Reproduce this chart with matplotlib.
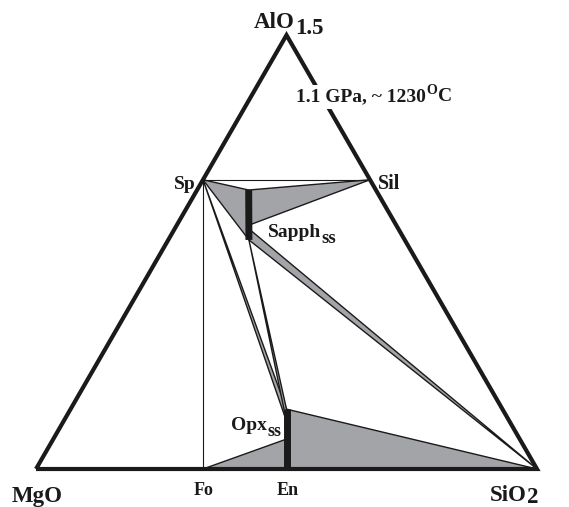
import numpy as np
import matplotlib
matplotlib.use("Agg")
import matplotlib.pyplot as plt
from matplotlib.transforms import Affine2D

# ---- data: compositions as (MgO, AlO1.5, SiO2) mole fractions ----
vertices = {"MgO": (1.0, 0.0, 0.0), "AlO1.5": (0.0, 1.0, 0.0), "SiO2": (0.0, 0.0, 1.0)}
sp = (1/3, 2/3, 0.0)
sil = (0.0, 2/3, 1/3)
fo = (2/3, 0.0, 1/3)
en = (0.5, 0.0, 0.5)
sapph_top = (0.254, 0.643, 0.103)
sapph_mid = (0.294, 0.562, 0.144)
sapph_band = (0.2975, 0.552, 0.1505)
sapph_bot = (0.311, 0.528, 0.161)
opx_top = (0.431, 0.138, 0.431)
opx_sl = (0.445, 0.110, 0.445)
opx_fo = (0.4655, 0.069, 0.4655)

def xy(c):
    m, a, s = c
    return s + a / 2.0, a * np.sqrt(3) / 2.0

def pts(*cs):
    arr = np.array([xy(c) for c in cs])
    return arr[:, 0], arr[:, 1]

W, H = 569, 507
fig = plt.figure(figsize=(W / 100, H / 100), dpi=100)
ax = fig.add_axes([0, 0, 1, 1])
s = 501.0
ax.set_xlim(-36 / s, (W - 36) / s)
ax.set_ylim(-(H - 469) / s, 469 / s)
ax.axis("off")

gray = "#a3a4a8"
k = "#1a1a1a"

def poly(cs, lw=1.0):
    x, y = pts(*cs)
    ax.fill(x, y, facecolor=gray, edgecolor=k, lw=lw, joinstyle="miter", zorder=2)

def line(c1, c2, lw=0.9, z=3):
    x, y = pts(c1, c2)
    ax.plot(x, y, color=k, lw=lw, zorder=z, solid_capstyle="butt")

# shaded fields
poly([sp, sapph_top, sapph_bot])
poly([sapph_top, sil, sapph_mid])
poly([sapph_band, vertices["SiO2"], sapph_bot])
poly([sp, opx_top, opx_sl])
poly([sapph_bot, opx_top, opx_sl])
poly([fo, opx_fo, en])
poly([opx_top, vertices["SiO2"], en])

# tie lines
line(sp, sil, lw=0.8)
line(sp, fo, lw=0.8)

# solid-solution bars
x, y = pts(sapph_top, sapph_bot)
ax.plot(x, y, color=k, lw=5.0, zorder=4, solid_capstyle="butt")
x, y = pts(opx_top, en)
ax.plot(x, y, color=k, lw=5.0, zorder=4, solid_capstyle="butt")

# outer triangle
x, y = pts(vertices["MgO"], vertices["AlO1.5"], vertices["SiO2"], vertices["MgO"])
ax.plot(x, y, color=k, lw=3.0, zorder=5, solid_joinstyle="miter", solid_capstyle="butt")

# ---- labels (positions in reference pixel coordinates) ----
pix = Affine2D().scale(1 / W, -1 / H).translate(0, 1) + fig.transFigure
fam = "Liberation Serif"
renderer = fig.canvas.get_renderer()

def label(px, py, txt, size, ha="left", va="baseline", **kw):
    return ax.text(px, py, txt, transform=pix, fontsize=size, fontweight="bold",
                   family=fam, ha=ha, va=va, color=k, zorder=10, **kw)

def chain(px, py, parts, **kw):
    """parts: list of (text, size, baseline shift in px, downward positive)."""
    x = px
    out = []
    for i, (txt, size, dy) in enumerate(parts):
        t = label(x, py + dy, txt, size, **(kw if i == 0 else {}))
        bb = t.get_window_extent(renderer)
        x = x + bb.width + 0.5
        out.append(t)
    return out

chain(254, 28, [("AlO", 16.5, 0), ("1.5", 16.5, 6)])

chain(296, 101, [("1.1 GPa, ~ 1230", 14, 0), ("O", 10, -7), ("C", 14, 0)],
      bbox=dict(facecolor="white", edgecolor="none", pad=2.5))

label(196, 189, "Sp", 14, ha="right")
label(378, 189, "Sil", 14.5)
chain(268, 237, [("Sapph", 14, 0), ("ss", 13.5, 6)])
chain(231, 430, [("Opx", 14, 0), ("ss", 13, 6)])

label(37, 502, "MgO", 16.5, ha="center")
label(204, 495, "Fo", 13, ha="center")
label(288, 495, "En", 13, ha="center")
chain(490, 501, [("SiO", 16.5, 0), ("2", 16.5, 2)])

fig.savefig("out.png", dpi=100)
